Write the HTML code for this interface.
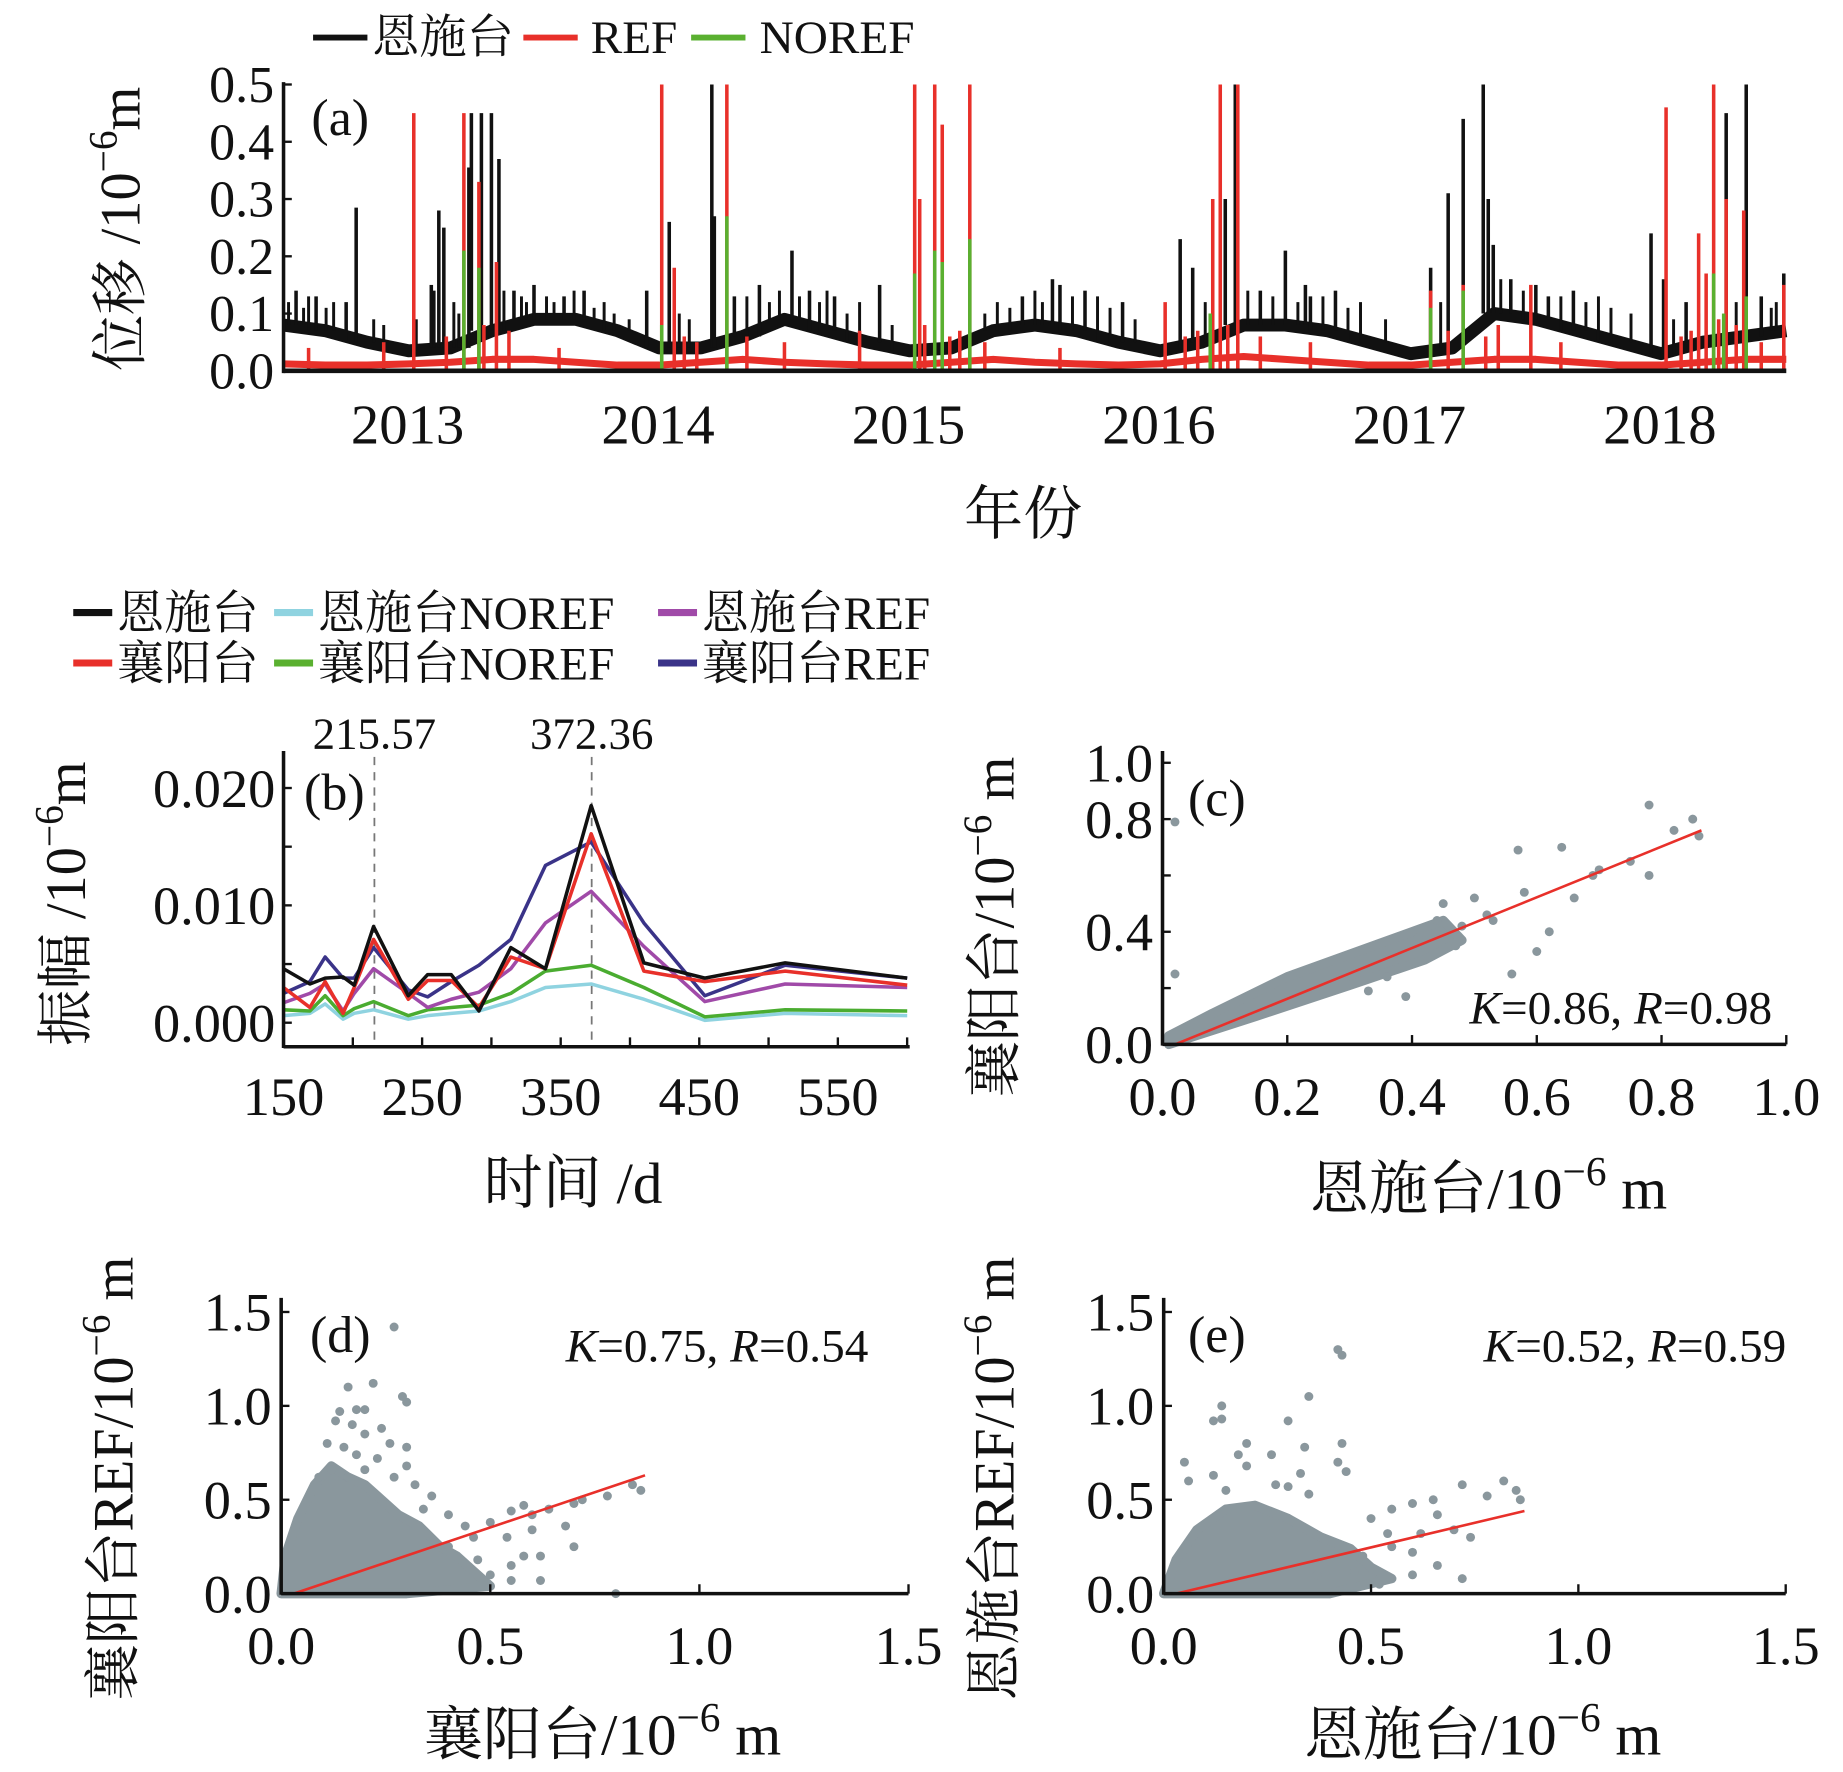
<!DOCTYPE html>
<html><head><meta charset="utf-8"><style>
html,body{margin:0;padding:0;background:#fff}
svg{display:block}
text{font-family:"Liberation Serif","Noto Serif CJK SC",serif;fill:#111}
</style></head><body>
<svg id="fig" xmlns="http://www.w3.org/2000/svg" width="1843" height="1772" viewBox="0 0 1560 1510" preserveAspectRatio="none">
<g id="pa"></g>
<g id="pb"></g>
<g id="pc"></g>
<g id="pd"></g>
<g id="pe"></g>
</svg>
<script>
// ---------- Panel (a) data ----------
const aYears = [2013,2014,2015,2016,2017,2018];
const aYTicks = [0,0.1,0.2,0.3,0.4,0.5];
const aBaseBlack = [0.08,0.07,0.05,0.035,0.04,0.07,0.09,0.09,0.07,0.04,0.04,0.06,0.09,0.07,0.05,0.035,0.04,0.07,0.08,0.07,0.05,0.035,0.05,0.08,0.08,0.07,0.05,0.03,0.04,0.1,0.09,0.07,0.05,0.03,0.05,0.06,0.07];
const aBaseRed = [0.012,0.01,0.01,0.012,0.015,0.02,0.02,0.015,0.01,0.01,0.015,0.02,0.015,0.012,0.01,0.01,0.015,0.02,0.015,0.012,0.01,0.012,0.02,0.025,0.02,0.015,0.01,0.01,0.015,0.02,0.02,0.015,0.01,0.01,0.015,0.02,0.02];
const aBlackSpikeT = [2012.55,2012.63,2012.75,2012.79,2013.09,2013.1,2013.12,2013.14,2013.24,2013.25,2013.29,2013.33,2013.36,2013.42,2013.5,2013.62,2013.7,2013.95,2014.04,2014.21,2014.22,2014.3,2014.4,2014.53,2014.6,2014.7,2014.88,2015.45,2015.57,2015.6,2015.7,2015.85,2016.08,2016.13,2016.26,2016.3,2016.4,2016.5,2016.58,2016.6,2016.7,2017.08,2017.15,2017.21,2017.29,2017.31,2017.33,2017.4,2017.5,2017.55,2017.65,2017.96,2018.01,2018.1,2018.26,2018.34,2018.4,2018.49];
const aBlackSpikeV = [0.14,0.13,0.12,0.285,0.15,0.14,0.28,0.25,0.355,0.45,0.45,0.45,0.37,0.14,0.15,0.13,0.14,0.14,0.26,0.5,0.27,0.13,0.15,0.21,0.14,0.13,0.15,0.13,0.16,0.15,0.14,0.12,0.23,0.18,0.3,0.5,0.14,0.21,0.15,0.13,0.14,0.18,0.31,0.44,0.5,0.3,0.22,0.16,0.15,0.13,0.14,0.24,0.16,0.12,0.45,0.5,0.13,0.17];
const aBlackSmallT = [2012.52,2012.58,2012.6,2012.67,2012.7,2012.86,2012.9,2013.03,2013.18,2013.2,2013.38,2013.45,2013.47,2013.55,2013.58,2013.66,2013.74,2013.78,2013.82,2013.88,2014.08,2014.12,2014.35,2014.44,2014.48,2014.56,2014.64,2014.67,2014.75,2014.8,2014.93,2015.3,2015.35,2015.4,2015.5,2015.53,2015.65,2015.75,2015.8,2015.9,2016.18,2016.35,2016.45,2016.55,2016.65,2016.75,2016.8,2016.9,2017.12,2017.36,2017.45,2017.6,2017.7,2017.75,2017.8,2017.88,2018.05,2018.15,2018.3,2018.44,2018.46];
const aBlackSmallV = [0.12,0.11,0.13,0.11,0.12,0.09,0.08,0.09,0.12,0.1,0.14,0.13,0.12,0.13,0.12,0.14,0.11,0.12,0.1,0.09,0.1,0.09,0.13,0.12,0.14,0.13,0.12,0.14,0.1,0.12,0.08,0.1,0.12,0.11,0.14,0.12,0.13,0.13,0.11,0.09,0.12,0.14,0.13,0.12,0.13,0.11,0.12,0.09,0.12,0.16,0.14,0.13,0.12,0.13,0.11,0.1,0.09,0.1,0.12,0.11,0.12];
const aRedSpikeT = [2013.02,2013.22,2013.28,2013.35,2014.01,2014.06,2014.27,2015.02,2015.04,2015.1,2015.13,2015.24,2016.02,2016.21,2016.24,2016.31,2017.08,2017.21,2017.48,2018.02,2018.15,2018.18,2018.21,2018.26,2018.33,2018.49];
const aRedSpikeV = [0.45,0.45,0.33,0.19,0.5,0.18,0.5,0.5,0.3,0.5,0.43,0.5,0.12,0.3,0.5,0.5,0.14,0.15,0.15,0.46,0.24,0.17,0.5,0.3,0.28,0.15];
const aRedSmallT = [2012.6,2012.9,2013.15,2013.3,2013.4,2013.6,2014.1,2014.15,2014.35,2014.5,2014.8,2015.06,2015.16,2015.2,2015.3,2015.6,2016.1,2016.15,2016.27,2016.4,2016.6,2017.15,2017.3,2017.35,2017.6,2018.08,2018.12,2018.23,2018.3,2018.4];
const aRedSmallV = [0.04,0.05,0.06,0.08,0.07,0.04,0.06,0.05,0.06,0.05,0.07,0.08,0.06,0.07,0.05,0.04,0.06,0.07,0.08,0.06,0.05,0.07,0.06,0.08,0.05,0.06,0.07,0.09,0.08,0.05];
const aGreenSpikeT = [2013.22,2013.28,2014.01,2014.27,2015.02,2015.1,2015.13,2015.24,2016.2,2017.08,2017.21,2018.21,2018.25,2018.34];
const aGreenSpikeV = [0.21,0.18,0.08,0.27,0.17,0.21,0.19,0.23,0.1,0.11,0.14,0.17,0.1,0.13];

// ---------- Panel (b) data ----------
const bDays = [150,169,180,193,201,215,240,254,271,291,314,339,372,410,454,512,600];
const bXTicks = [150,250,350,450,550];
const bYTicks = [0,0.010,0.020];
const bEnshi = [4.6,3.3,3.8,3.9,3.2,8.2,2.3,4.1,4.1,1.0,6.4,4.6,18.5,5.1,3.8,5.1,3.8];
const bXiangyang = [3.0,1.3,3.5,0.8,3.0,7.1,2.0,3.6,3.6,1.3,5.6,4.6,16.1,4.4,3.5,4.4,3.2];
const bEnshiRef = [1.7,2.5,3.3,1.0,2.5,4.6,2.5,1.3,2.0,2.6,4.6,8.5,11.2,6.5,1.8,3.3,3.0];
const bXiangyangRef = [2.5,3.5,5.6,3.8,3.8,6.4,2.8,2.2,3.5,4.9,7.1,13.4,15.4,8.5,2.3,4.9,3.8];
const bXiangyangNoref = [1.1,1.0,2.3,0.6,1.2,1.8,0.6,1.1,1.3,1.5,2.5,4.4,4.9,3.0,0.5,1.1,1.0];
const bEnshiNoref = [0.6,0.8,1.6,0.3,0.8,1.1,0.3,0.6,0.8,1.0,1.8,3.0,3.3,2.0,0.2,0.8,0.6];
const bPeaks = [215.57,372.36];

// ---------- Panel (c) data ----------
const cCloud = [[0.01,0],[0.15,0.1],[0.3,0.21],[0.42,0.3],[0.48,0.37],[0.45,0.44],[0.35,0.36],[0.2,0.24],[0.08,0.11],[0.01,0.03]];
const cPoints = [[0.78,0.85],[0.85,0.8],[0.86,0.74],[0.82,0.76],[0.64,0.7],[0.57,0.69],[0.75,0.65],[0.7,0.62],[0.78,0.6],[0.58,0.54],[0.5,0.52],[0.45,0.5],[0.52,0.46],[0.66,0.52],[0.62,0.4],[0.6,0.33],[0.56,0.25],[0.33,0.19],[0.39,0.17],[0.02,0.25],[0.02,0.79],[0.69,0.6],[0.48,0.42],[0.44,0.44],[0.41,0.38],[0.53,0.44],[0.47,0.35],[0.36,0.24]];
const cFit = [[0.02,0.0],[0.864,0.76]];

// ---------- Panel (d) data ----------
const dCloud = [[0,0],[0.01,0.2],[0.04,0.4],[0.08,0.58],[0.12,0.68],[0.16,0.62],[0.2,0.58],[0.24,0.5],[0.28,0.42],[0.33,0.36],[0.38,0.25],[0.42,0.2],[0.46,0.12],[0.5,0.04],[0.3,0]];
const dPoints = [[0.27,1.42],[0.16,1.1],[0.22,1.12],[0.29,1.05],[0.3,1.02],[0.14,0.97],[0.18,0.98],[0.2,0.98],[0.13,0.92],[0.17,0.9],[0.24,0.88],[0.2,0.85],[0.11,0.8],[0.15,0.78],[0.26,0.8],[0.3,0.78],[0.18,0.74],[0.23,0.72],[0.12,0.66],[0.2,0.66],[0.3,0.68],[0.27,0.62],[0.09,0.62],[0.16,0.62],[0.32,0.58],[0.36,0.52],[0.34,0.45],[0.4,0.42],[0.44,0.36],[0.46,0.3],[0.5,0.38],[0.55,0.44],[0.58,0.47],[0.6,0.42],[0.64,0.45],[0.7,0.48],[0.72,0.5],[0.78,0.52],[0.84,0.58],[0.86,0.55],[0.54,0.3],[0.6,0.34],[0.68,0.36],[0.58,0.2],[0.62,0.2],[0.55,0.15],[0.7,0.25],[0.5,0.1],[0.55,0.07],[0.62,0.07],[0.8,0.0],[0.47,0.18],[0.4,0.25]];
const dFit = [[0.03,0.0],[0.87,0.63]];

// ---------- Panel (e) data ----------
const eCloud = [[0,0],[0.03,0.18],[0.08,0.34],[0.15,0.45],[0.22,0.47],[0.3,0.4],[0.38,0.3],[0.45,0.24],[0.5,0.14],[0.55,0.08],[0.4,0]];
const ePoints = [[0.42,1.3],[0.43,1.27],[0.35,1.05],[0.14,1.0],[0.12,0.92],[0.14,0.93],[0.3,0.92],[0.2,0.8],[0.34,0.78],[0.43,0.8],[0.18,0.74],[0.26,0.74],[0.42,0.7],[0.44,0.65],[0.05,0.7],[0.2,0.68],[0.33,0.64],[0.06,0.6],[0.12,0.63],[0.15,0.55],[0.3,0.57],[0.27,0.58],[0.35,0.53],[0.5,0.4],[0.55,0.45],[0.6,0.48],[0.66,0.42],[0.72,0.58],[0.78,0.52],[0.82,0.6],[0.85,0.55],[0.86,0.5],[0.65,0.5],[0.54,0.32],[0.62,0.32],[0.7,0.34],[0.74,0.3],[0.55,0.25],[0.6,0.22],[0.66,0.15],[0.72,0.08],[0.6,0.1],[0.48,0.2],[0.52,0.05],[0.46,0.12],[0.37,0.1]];
const eFit = [[0.03,0.0],[0.87,0.44]];

const NS = "http://www.w3.org/2000/svg";
function mk(parent, tag, attrs, txt){
  const e = document.createElementNS(NS, tag);
  for (const k in attrs) e.setAttribute(k, attrs[k]);
  if (txt !== undefined) e.textContent = txt;
  parent.appendChild(e);
  return e;
}
function label(parent, x, y, size, txt, anchor, name){
  const t = mk(parent, "text", {x:x, y:y, "font-size":size, "text-anchor":anchor||"middle"}, txt);
  
  
  return t;
}
function unitLabel(parent, x, y, size, pre, post, rotate, name){
  const t = mk(parent, "text", {x:x, y:y, "font-size":size, "text-anchor":"middle"});
  if (rotate) t.setAttribute("transform", "rotate(-90 "+x+" "+y+")");
  
  
  mk(t, "tspan", {}, pre);
  mk(t, "tspan", {dy:-size*0.4, "font-size":size*0.7}, "−6");
  mk(t, "tspan", {dy:size*0.4}, post);
  return t;
}
function line(parent, x1,y1,x2,y2, stroke, w, name, dash){
  const l = mk(parent, "line", {x1:x1,y1:y1,x2:x2,y2:y2,stroke:stroke,"stroke-width":w});
  if (dash) l.setAttribute("stroke-dasharray", dash);
  
  
  return l;
}

// ================= Panel (a) =================
(function(){
  const g = document.getElementById("pa");
  const X0=240, X1=1512, Y0=316, Y1=72;
  const xs = t => X0 + (t-2012.5)*212;
  const ys = v => Y0 - v/0.5*(Y0-Y1);
  const leg = [["#111","恩施台",265,315],["#e8302a","REF",443,500],["#5ab030","NOREF",585,643]];
  leg.forEach(l=>{
    line(g,l[2],32,l[2]+46,32,l[0],5,"legend-swatch");
    label(g,l[3],45,40,l[1],"start","legend-entry");
  });
  function baseLine(arr, color, w, name){
    let d = "";
    arr.forEach((v,i)=>{ const t = 2012.5 + i/6; d += (i?"L":"M")+xs(t).toFixed(1)+","+ys(v).toFixed(1); });
    const p = mk(g,"path",{d:d,fill:"none",stroke:color,"stroke-width":w,"stroke-linejoin":"round"});
    
    
  }
  baseLine(aBaseBlack,"#111",11,"enshi-baseline");
  function spikes(T,V,color,w,name,fromBase){
    T.forEach((t,i)=>{
      const base = fromBase ? ys(aBaseBlack[Math.min(36,Math.round((t-2012.5)*6))]) : Y0;
      line(g,xs(t),base,xs(t),ys(V[i]),color,w,name);
    });
  }
  spikes(aBlackSmallT,aBlackSmallV,"#111",2.5,"enshi-small-spike",true);
  spikes(aBlackSpikeT,aBlackSpikeV,"#111",3,"enshi-spike",true);
  baseLine(aBaseRed,"#e8302a",6,"ref-baseline");
  spikes(aRedSmallT,aRedSmallV,"#e8302a",3,"ref-small-spike",false);
  spikes(aRedSpikeT,aRedSpikeV,"#e8302a",3,"ref-spike",false);
  spikes(aGreenSpikeT,aGreenSpikeV,"#5ab030",3,"noref-spike",false);
  line(g,X0,Y1-2,X0,Y0+2,"#111",3,"y-axis");
  line(g,X0,Y0,X1,Y0,"#111",4,"x-axis");
  aYTicks.forEach(v=>{
    line(g,X0,ys(v),X0+7,ys(v),"#111",2,"y-tick");
    label(g,X0-8,ys(v)+15,44,v.toFixed(1),"end","y-tick-label");
  });
  aYears.forEach(y=>{ label(g,345 + (y-2013)*212,378,48,String(y),"middle","x-tick-label"); });
  label(g,288,115,44,"(a)","middle","panel-label-a");
  label(g,866,455,50,"年份","middle","x-axis-title");
  unitLabel(g,118,195,48,"位移 /10","m",true,"y-axis-title");
})();

// ================= Panel (b) =================
(function(){
  const g = document.getElementById("pb");
  const X0=240, X1=770, Y0=892;
  const xs = d => 240 + (d-150)*1.173;
  const ys = v => 871.5 - v*10000;
  const legend = [["#111","恩施台",62,522],["#8fd3e0","恩施台NOREF",232,522],["#a04aa8","恩施台REF",557,522],
                  ["#e8302a","襄阳台",62,565],["#5ab030","襄阳台NOREF",232,565],["#3a3388","襄阳台REF",557,565]];
  legend.forEach(l=>{
    line(g,l[2],l[3],l[2]+33,l[3],l[0],6,"legend-swatch");
    label(g,l[2]+37,l[3]+14,40,l[1],"start","legend-entry");
  });
  bPeaks.forEach(p=>{
    line(g,xs(p),645,xs(p),Y0,"#777",1.5,"peak-line","7,6");
    label(g,xs(p),638,38,p.toFixed(2),"middle","peak-label");
  });
  const series = [[bEnshiNoref,"#8fd3e0","enshi-noref-line"],[bXiangyangNoref,"#4aac30","xiangyang-noref-line"],[bEnshiRef,"#a04aa8","enshi-ref-line"],[bXiangyangRef,"#3a3388","xiangyang-ref-line"],[bXiangyang,"#e8302a","xiangyang-line"],[bEnshi,"#111","enshi-line"]];
  series.forEach(s=>{
    let d="";
    s[0].forEach((v,i)=>{ d += (i?"L":"M")+xs(bDays[i]).toFixed(1)+","+ys(v/1000).toFixed(1); });
    const p = mk(g,"path",{d:d,fill:"none",stroke:s[1],"stroke-width":3,"stroke-linejoin":"round"});
    
    
  });
  line(g,X0,640,X0,Y0+1,"#111",3,"y-axis");
  line(g,X0,Y0,X1,Y0,"#111",3,"x-axis");
  for(let d=150; d<=600; d+=50) line(g,xs(d),Y0,xs(d),Y0-8,"#111",2,"x-tick");
  for(let v=0; v<=0.02; v+=0.005) line(g,X0,ys(v),X0+7,ys(v),"#111",2,"y-tick");
  bXTicks.forEach(d=>label(g,xs(d),950,46,String(d),"middle","x-tick-label"));
  bYTicks.forEach(v=>label(g,233,ys(v)+16,46,v.toFixed(3),"end","y-tick-label"));
  label(g,283,690,44,"(b)","middle","panel-label-b");
  label(g,485,1025,50,"时间 /d","middle","x-axis-title");
  unitLabel(g,72,770,48,"振幅 /10","m",true,"y-axis-title");
})();

// ================= Scatter panels =================
function scatter(id, cfg){
  const g = document.getElementById(id);
  const xs = v => cfg.x0 + v*cfg.xk;
  const ys = v => cfg.y0 - v*cfg.yk;
  let d="";
  cfg.cloud.forEach((p,i)=>{ d += (i?"L":"M")+xs(p[0]).toFixed(1)+","+ys(p[1]).toFixed(1); });
  const poly = mk(g,"path",{d:d+"Z",fill:"#8a979d",stroke:"#8a979d","stroke-width":8,"stroke-linejoin":"round"});
  
  
  cfg.points.forEach(p=>{
    const c = mk(g,"circle",{cx:xs(p[0]),cy:ys(p[1]),r:3.8,fill:"#8a979d"});
    
    
  });
  line(g,xs(cfg.fit[0][0]),ys(cfg.fit[0][1]),xs(cfg.fit[1][0]),ys(cfg.fit[1][1]),"#e8302a",2.2,"fit-line");
  line(g,cfg.x0,cfg.yTop,cfg.x0,cfg.y0+1,"#111",3,"y-axis");
  line(g,cfg.x0,cfg.y0,cfg.x0+cfg.xMax*cfg.xk,cfg.y0,"#111",3,"x-axis");
  cfg.xt.forEach(v=>line(g,xs(v),cfg.y0,xs(v),cfg.y0-8,"#111",2,"x-tick"));
  cfg.xl.forEach(v=>label(g,xs(v),cfg.y0+60,46,v.toFixed(1),"middle","x-tick-label"));
  cfg.yt.forEach(v=>line(g,cfg.x0,ys(v),cfg.x0+7,ys(v),"#111",2,"y-tick"));
  cfg.yl.forEach(v=>label(g,cfg.x0-8,ys(v)+16,46,v.toFixed(1),"end","y-tick-label"));
  label(g,cfg.pl[0],cfg.pl[1],44,cfg.pl[2],"middle","panel-label");
  const k = mk(g,"text",{x:cfg.k[0],y:cfg.k[1],"font-size":40,"text-anchor":"end"});
  
  
  mk(k,"tspan",{"font-style":"italic"},"K");
  mk(k,"tspan",{},"="+cfg.k[2]+", ");
  mk(k,"tspan",{"font-style":"italic"},"R");
  mk(k,"tspan",{},"="+cfg.k[3]);
  unitLabel(g,cfg.xlab[0],cfg.xlab[1],50,cfg.xlab[2]," m",false,"x-axis-title");
  unitLabel(g,cfg.ylab[0],cfg.ylab[1],48,cfg.ylab[2]," m",true,"y-axis-title");
}
scatter("pc",{x0:984,xk:528,y0:890,yk:240,yTop:640,xMax:1.0,cloud:cCloud,points:cPoints,fit:cFit,
  xt:[0,0.2,0.4,0.6,0.8,1.0],xl:[0,0.2,0.4,0.6,0.8,1.0],yt:[0,0.2,0.4,0.6,0.8,1.0],yl:[0,0.4,0.8,1.0],
  pl:[1030,695,"(c)"],k:[1500,872,"0.86","0.98"],xlab:[1260,1030,"恩施台/10"],ylab:[858,790,"襄阳台/10"]});
scatter("pd",{x0:238,xk:354,y0:1358,yk:160,yTop:1106,xMax:1.5,cloud:dCloud,points:dPoints,fit:dFit,
  xt:[0,0.5,1.0,1.5],xl:[0,0.5,1.0,1.5],yt:[0,0.5,1.0,1.5],yl:[0,0.5,1.0,1.5],
  pl:[288,1152,"(d)"],k:[735,1160,"0.75","0.54"],xlab:[510,1495,"襄阳台/10"],ylab:[112,1260,"襄阳台REF/10"]});
scatter("pe",{x0:985,xk:351,y0:1358,yk:160,yTop:1106,xMax:1.5,cloud:eCloud,points:ePoints,fit:eFit,
  xt:[0,0.5,1.0,1.5],xl:[0,0.5,1.0,1.5],yt:[0,0.5,1.0,1.5],yl:[0,0.5,1.0,1.5],
  pl:[1030,1152,"(e)"],k:[1512,1160,"0.52","0.59"],xlab:[1255,1495,"恩施台/10"],ylab:[858,1260,"恩施台REF/10"]});
</script>
</body></html>
